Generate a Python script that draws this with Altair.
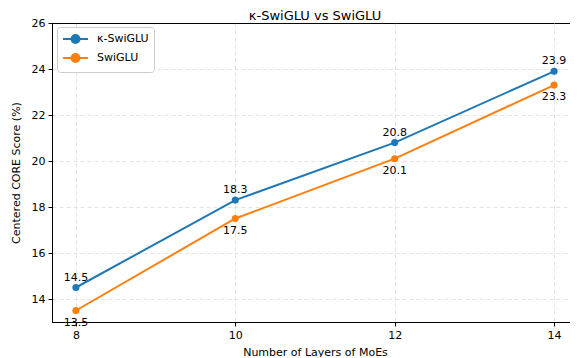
import altair as alt
import pandas as pd

layers = [8, 10, 12, 14]
kappa_swiglu = [14.5, 18.3, 20.8, 23.9]
swiglu = [13.5, 17.5, 20.1, 23.3]
series_names = ["κ-SwiGLU", "SwiGLU"]
colors = ["#1f77b4", "#ff7f0e"]
y_ticks = [14, 16, 18, 20, 22, 24, 26]

df = pd.DataFrame({
    "layers": layers * 2,
    "score": kappa_swiglu + swiglu,
    "series": [series_names[0]] * len(layers) + [series_names[1]] * len(layers),
})

FONT = "DejaVu Sans"
GRID = "#dcdcdc"

x = alt.X("layers:Q",
          scale=alt.Scale(domain=[7.7, 14.3], nice=False, zero=False),
          axis=alt.Axis(values=layers, title="Number of Layers of MoEs", format="d"))
y = alt.Y("score:Q",
          scale=alt.Scale(domain=[13, 26], nice=False, zero=False),
          axis=alt.Axis(values=y_ticks, title="Centered CORE Score (%)",
                        gridColor={"condition": {"test": "datum.value >= 26", "value": "black"},
                                   "value": GRID}))
color_scale = alt.Scale(domain=series_names, range=colors)

# line with a circle marker, path units scaled by sqrt(size)/2 = 6 px
legend_symbol = "M-2.083,0H2.083M-0.667,0A0.667,0.667 0 1,0 0.667,0A0.667,0.667 0 1,0 -0.667,0Z"

base = alt.Chart(df)

lines = base.mark_line(strokeWidth=2).encode(
    x=x, y=y,
    color=alt.Color("series:N", scale=color_scale, sort=series_names,
                    legend=alt.Legend(title=None, orient="none", legendX=5, legendY=4,
                                      symbolType=legend_symbol, symbolSize=144,
                                      symbolStrokeWidth=2, symbolOffset=6.5, labelOffset=14.5,
                                      fillColor="white", strokeColor="#cccccc",
                                      cornerRadius=3, padding=5, rowPadding=1,
                                      labelFontSize=11, labelFont=FONT, labelColor="black",
                                      labelExpr="datum.label + '\u00a0\u00a0\u00a0\u00a0\u00a0'")),
)
points = base.mark_point(filled=True, size=50, opacity=1).encode(
    x=x, y=y,
    color=alt.Color("series:N", scale=color_scale, legend=None),
)
labels_top = base.transform_filter(alt.datum.series == series_names[0]).mark_text(
    baseline="bottom", dy=-5, fontSize=11, font=FONT, color="black"
).encode(x=x, y=y, text=alt.Text("score:Q", format=".1f"))
labels_bottom = base.transform_filter(alt.datum.series == series_names[1]).mark_text(
    baseline="top", dy=6, fontSize=11, font=FONT, color="black"
).encode(x=x, y=y, text=alt.Text("score:Q", format=".1f"))

chart = alt.layer(lines, points, labels_top, labels_bottom).properties(
    width=526, height=299,
    title=alt.TitleParams("κ-SwiGLU vs SwiGLU", fontSize=13, fontWeight="normal",
                          font=FONT, color="black", offset=1, dy=7),
    autosize=alt.AutoSizeParams(type="none"),
    padding={"left": 44, "top": 15, "right": -8, "bottom": 35},
).configure_view(
    stroke="black", strokeWidth=1
).configure_axis(
    labelFont=FONT, titleFont=FONT, labelFontSize=11, titleFontSize=11,
    labelColor="black", titleColor="black", titleFontWeight="normal",
    domainColor="black", tickColor="black", tickSize=4,
    grid=True, gridColor=GRID, gridDash=[4, 3], gridWidth=0.8,
    labelPadding=3,
).configure_axisY(
    titlePadding=10,
).configure_axisX(
    titlePadding=6,
)

chart.save("out.html", embed_options={"renderer": "svg", "actions": False})
